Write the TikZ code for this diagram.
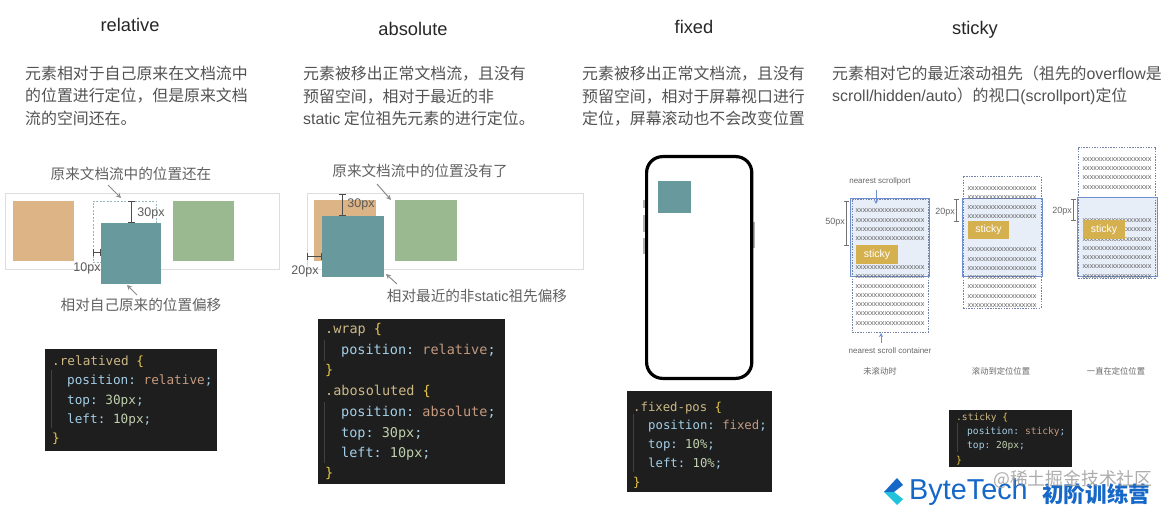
\documentclass[tikz,border=0pt]{standalone}
\usepackage{fontspec}
\setmainfont{Liberation Sans}
\setmonofont{DejaVu Sans Mono}
\newfontfamily\cjkFont{Noto Sans CJK SC}
\usetikzlibrary{arrows.meta}
\definecolor{tanColor}{HTML}{DDB486}
\definecolor{tealColor}{HTML}{68999C}
\definecolor{greenColor}{HTML}{9AB991}
\definecolor{frameColor}{HTML}{DDDDDD}
\definecolor{portColor}{HTML}{6F8FD0}
\definecolor{portFill}{HTML}{E8EEF8}
\definecolor{stickyColor}{HTML}{D5B04F}
\definecolor{codeBack}{HTML}{1E1E1E}
\definecolor{codeSelector}{HTML}{CDB886}
\definecolor{codeBrace}{HTML}{EBC94A}
\definecolor{codeProp}{HTML}{A4CFE8}
\definecolor{codeValue}{HTML}{C49A80}
\definecolor{codeNumber}{HTML}{BFD0AE}
\definecolor{logoBlue}{HTML}{1567C8}
\definecolor{logoCyan}{HTML}{1FC3DA}
\newcommand{\textSize}[1]{\fontsize{#1}{#1}\selectfont}
\newcommand{\lat}[1]{{\rmfamily #1}}
\tikzstyle{canvas} = [x = 1pt, y = -1pt]
\tikzstyle{flatBox} = [anchor=north west, inner sep=0, outer sep=0]
\tikzstyle{titleText} = [anchor=mid, inner sep=0, yshift=-4pt, text=black!85, font=\textSize{18.3}]
\tikzstyle{paraText} = [anchor=mid west, inner sep=0, yshift=-3.5pt, text=black!68, font=\cjkFont\textSize{15.9}]
\tikzstyle{noteText} = [anchor=mid, inner sep=0, yshift=-3pt, text=black!62, font=\cjkFont\textSize{14.6}]
\tikzstyle{sizeText} = [anchor=mid, inner sep=0, yshift=-2pt, text=black!65, font=\textSize{12.5}]
\tikzstyle{smallNote} = [anchor=mid, inner sep=0, yshift=-1pt, text=black!60, font=\textSize{8}]
\tikzstyle{smallCaption} = [anchor=mid, inner sep=0, yshift=-1pt, text=black!60, font=\cjkFont\textSize{8.3}]
\tikzstyle{smallSize} = [anchor=mid east, inner sep=0, yshift=-1pt, text=black!60, font=\textSize{9}]
\tikzstyle{rowText} = [anchor=mid, inner sep=0, yshift=-.5pt, text=black!62, font=\textSize{7.25}]
\tikzstyle{stickyBox} = [flatBox, fill=stickyColor, text=white, font=\textSize{10.5}]
\tikzstyle{portBox} = [flatBox, fill=portFill, draw=portColor, line width=1pt]
\tikzstyle{scrollBox} = [flatBox, draw=portColor!70!black!80, dash pattern=on 1.5pt off 1.2pt, line width=.5pt]
\tikzstyle{codeText} = [anchor=mid west, inner sep=0, yshift=-2pt, text=codeProp, font=\ttfamily]
\tikzstyle{noteArrow} = [color=black!45, line width=1pt, -{Stealth[length=5pt,width=5pt]}]
\tikzstyle{portArrow} = [color=portColor, line width=.8pt, -{Stealth[length=4pt,width=4pt]}]
\tikzstyle{sizeLine} = [color=black!70, line width=.9pt, {Bar[width=7pt]}-{Bar[width=7pt]}]
\tikzstyle{smallLine} = [color=black!55, line width=.6pt, {Bar[width=5pt]}-{Bar[width=5pt]}]
\tikzstyle{guideLine} = [color=white!15!codeBack, line width=.6pt]
\newcommand{\plainBox}[6]{\node [flatBox, #2, minimum width={(#5-#3)*1pt}, minimum height={(#6-#4)*1pt}] (#1) at (#3,#4) {};}
\newcommand{\textBox}[7]{\node [#2, align=center, minimum width={(#5-#3)*1pt}, minimum height={(#6-#4)*1pt}] (#1) at (#3,#4) {#7};}
\newcommand{\codeLine}[5]{\node [codeText] (#1) at (#2,#3) {\textSize{#4}#5};}
\newcommand{\sel}[1]{\textcolor{codeSelector}{#1}}
\newcommand{\brc}[1]{\textcolor{codeBrace}{#1}}
\newcommand{\val}[1]{\textcolor{codeValue}{#1}}
\newcommand{\num}[1]{\textcolor{codeNumber}{#1}}
\newcommand{\xRows}[3]{
  \foreach \rowY [count=\rowIndex] in {#3} {
    \node [rowText] (#1row\rowIndex) at (#2,\rowY) {xxxxxxxxxxxxxxxxxxx};
  }
}
\begin{document}
\begin{tikzpicture}[canvas]
\useasboundingbox (0,0) rectangle (1170,505);
\node [titleText] (relativeTitle) at (130,25) {relative};
\node [titleText] (absoluteTitle) at (413,29) {absolute};
\node [titleText] (fixedTitle) at (694,27) {fixed};
\node [titleText] (stickyTitle) at (975,28) {sticky};
\node [paraText] (relativeOne) at (25,73) {元素相对于自己原来在文档流中};
\node [paraText] (relativeTwo) at (25,95) {的位置进行定位，但是原来文档};
\node [paraText] (relativeThree) at (25,118) {流的空间还在。};
\node [paraText] (absoluteOne) at (303,73) {元素被移出正常文档流，且没有};
\node [paraText] (absoluteTwo) at (303,96) {预留空间，相对于最近的非};
\node [paraText] (absoluteThree) at (303,118) {\lat{static} 定位祖先元素的进行定位。};
\node [paraText] (fixedOne) at (582,73) {元素被移出正常文档流，且没有};
\node [paraText] (fixedTwo) at (582,96) {预留空间，相对于屏幕视口进行};
\node [paraText] (fixedThree) at (582,118) {定位，屏幕滚动也不会改变位置};
\node [paraText] (stickyOne) at (832,73) {元素相对它的最近滚动祖先（祖先的\lat{overflow}是};
\node [paraText] (stickyTwo) at (832,95) {\lat{scroll/hidden/auto}）的视口\lat{(scrollport)}定位};
\plainBox{relativeFrame}{draw=frameColor, line width=.7pt}{5}{193}{279}{269}
\plainBox{relativeTan}{fill=tanColor}{13}{201}{74}{261}
\plainBox{relativeGhost}{draw=tealColor!70, dash pattern=on 2pt off 1.5pt, line width=.6pt}{93}{201}{156}{262}
\plainBox{relativeTeal}{fill=tealColor}{101}{223}{161}{284}
\plainBox{relativeGreen}{fill=greenColor}{173}{201}{234}{261}
\node [noteText] (relativeKeep) at (131,174) {原来文档流中的位置还在};
\node [noteText] (relativeShift) at (141,305) {相对自己原来的位置偏移};
\node [sizeText] (relativeTop) at (151,212) {30px};
\node [sizeText] (relativeLeft) at (87,267) {10px};
\coordinate (keepTail) at (108,185);
\coordinate (keepHead) at (121,198);
\coordinate (shiftTail) at (137,295);
\coordinate (shiftHead) at (127,285);
\coordinate (topStart) at (131.5,201);
\coordinate (topEnd) at (131.5,223);
\coordinate (leftStart) at (93,252.5);
\coordinate (leftEnd) at (101,252.5);
\draw [noteArrow] (keepTail) -- (keepHead);
\draw [noteArrow] (shiftTail) -- (shiftHead);
\draw [sizeLine] (topStart) -- (topEnd);
\draw [sizeLine] (leftStart) -- (leftEnd);
\plainBox{absoluteFrame}{draw=frameColor, line width=.7pt}{307}{193}{583}{269}
\plainBox{absoluteTan}{fill=tanColor}{314}{200}{376}{261}
\plainBox{absoluteTeal}{fill=tealColor}{322}{216}{384}{277}
\plainBox{absoluteGreen}{fill=greenColor}{395}{200}{457}{261}
\node [noteText] (absoluteGone) at (420,171) {原来文档流中的位置没有了};
\node [noteText] (absoluteShift) at (477,296) {相对最近的非\lat{static}祖先偏移};
\node [sizeText] (absoluteTop) at (361,203) {30px};
\node [sizeText] (absoluteLeft) at (305,270) {20px};
\coordinate (goneTail) at (377,184);
\coordinate (goneHead) at (391,200);
\coordinate (ancestorTail) at (397,284);
\coordinate (ancestorHead) at (386,274);
\coordinate (absTopStart) at (342,194);
\coordinate (absTopEnd) at (342,216);
\coordinate (absLeftStart) at (307,256);
\coordinate (absLeftEnd) at (322,256);
\draw [noteArrow] (goneTail) -- (goneHead);
\draw [noteArrow] (ancestorTail) -- (ancestorHead);
\draw [sizeLine] (absTopStart) -- (absTopEnd);
\draw [sizeLine] (absLeftStart) -- (absLeftEnd);
\plainBox{phoneKeyOne}{fill=black!30}{643}{200}{647}{208}
\plainBox{phoneKeyTwo}{fill=black!30}{643}{215}{647}{232}
\plainBox{phoneKeyThree}{fill=black!30}{643}{238}{647}{254}
\plainBox{phoneKeyFour}{fill=black!30}{751}{222}{755}{248}
\plainBox{phoneBody}{draw=black, fill=white, line width=3.2pt, rounded corners=16pt}{646.6}{156.6}{751.8}{378.4}
\plainBox{fixedTeal}{fill=tealColor}{658}{181}{691}{213}
\plainBox{portOne}{portBox}{850}{199}{929}{276}
\plainBox{scrollOne}{scrollBox}{852}{199}{928}{332}
\xRows{first}{890}{209,219,228,237,266,275,285,294,303,312,322}
\textBox{stickyOneBox}{stickyBox}{856}{245}{898}{264}{sticky}
\node [smallNote] (portLabel) at (880,180) {nearest scrollport};
\node [smallNote] (scrollLabel) at (890,350) {nearest scroll container};
\node [smallCaption] (captionOne) at (880,371) {未滚动时};
\node [smallSize] (sizeOne) at (845,221) {50px};
\coordinate (portTail) at (876,190);
\coordinate (portHead) at (876,204);
\coordinate (scrollTail) at (881,343);
\coordinate (scrollHead) at (881,333);
\coordinate (sizeOneStart) at (846,201);
\coordinate (sizeOneEnd) at (846,246);
\draw [portArrow] (portTail) -- (portHead);
\draw [portArrow] (scrollTail) -- (scrollHead);
\draw [smallLine] (sizeOneStart) -- (sizeOneEnd);
\plainBox{portTwo}{portBox}{962}{199}{1042}{276}
\plainBox{scrollTwo}{scrollBox}{963}{176}{1041}{308}
\xRows{second}{1002}{187,196,206,215,248,258,267,276,285,295,304}
\textBox{stickyTwoBox}{stickyBox}{968}{221}{1009}{239}{sticky}
\node [smallCaption] (captionTwo) at (1001,371) {滚动到定位位置};
\node [smallSize] (sizeTwo) at (955,211) {20px};
\coordinate (sizeTwoStart) at (956,199);
\coordinate (sizeTwoEnd) at (956,222);
\draw [smallLine] (sizeTwoStart) -- (sizeTwoEnd);
\plainBox{portThree}{portBox}{1077}{198}{1157}{276}
\plainBox{scrollThree}{scrollBox}{1078}{147}{1155}{278}
\xRows{third}{1117}{158,167,176,186,219,228,238,247,256,265,275}
\textBox{stickyThreeBox}{stickyBox}{1083}{220}{1125}{239}{sticky}
\node [smallCaption] (captionThree) at (1116,371) {一直在定位位置};
\node [smallSize] (sizeThree) at (1072,210) {20px};
\coordinate (sizeThreeStart) at (1073,199);
\coordinate (sizeThreeEnd) at (1073,221);
\draw [smallLine] (sizeThreeStart) -- (sizeThreeEnd);
\plainBox{relativeCode}{fill=codeBack}{45}{349}{217}{451}
\coordinate (relativeGuideTop) at (51.5,370);
\coordinate (relativeGuideEnd) at (51.5,428);
\draw [guideLine] (relativeGuideTop) -- (relativeGuideEnd);
\codeLine{relativeLineA}{52}{361}{12.7}{\sel{.relatived} \brc{\{}}
\codeLine{relativeLineB}{67}{380}{12.7}{position: \val{relative};}
\codeLine{relativeLineC}{67}{400}{12.7}{top: \num{30px};}
\codeLine{relativeLineD}{67}{419}{12.7}{left: \num{10px};}
\codeLine{relativeLineE}{52}{438}{12.7}{\brc{\}}}
\plainBox{absoluteCode}{fill=codeBack}{318}{319}{505}{484}
\coordinate (wrapGuideTop) at (324.5,340);
\coordinate (wrapGuideEnd) at (324.5,361);
\coordinate (absGuideTop) at (324.5,402);
\coordinate (absGuideEnd) at (324.5,463);
\draw [guideLine] (wrapGuideTop) -- (wrapGuideEnd);
\draw [guideLine] (absGuideTop) -- (absGuideEnd);
\codeLine{absoluteLineA}{325}{329}{13.5}{\sel{.wrap} \brc{\{}}
\codeLine{absoluteLineB}{341}{350}{13.5}{position: \val{relative};}
\codeLine{absoluteLineC}{325}{370}{13.5}{\brc{\}}}
\codeLine{absoluteLineD}{325}{391}{13.5}{\sel{.abosoluted} \brc{\{}}
\codeLine{absoluteLineE}{341}{412}{13.5}{position: \val{absolute};}
\codeLine{absoluteLineF}{341}{433}{13.5}{top: \num{30px};}
\codeLine{absoluteLineG}{341}{453}{13.5}{left: \num{10px};}
\codeLine{absoluteLineH}{325}{473}{13.5}{\brc{\}}}
\plainBox{fixedCode}{fill=codeBack}{627}{391}{772}{492}
\coordinate (fixedGuideTop) at (633.5,414);
\coordinate (fixedGuideEnd) at (633.5,472);
\draw [guideLine] (fixedGuideTop) -- (fixedGuideEnd);
\codeLine{fixedLineA}{633}{407}{12.3}{\sel{.fixed-pos} \brc{\{}}
\codeLine{fixedLineB}{648}{425}{12.3}{position: \val{fixed};}
\codeLine{fixedLineC}{648}{444}{12.3}{top: \num{10\%};}
\codeLine{fixedLineD}{648}{463}{12.3}{left: \num{10\%};}
\codeLine{fixedLineE}{633}{482}{12.3}{\brc{\}}}
\plainBox{stickyCode}{fill=codeBack}{949}{410}{1072}{467}
\coordinate (stickyGuideTop) at (957,423);
\coordinate (stickyGuideEnd) at (957,452);
\draw [guideLine] (stickyGuideTop) -- (stickyGuideEnd);
\codeLine{stickyLineA}{956}{416}{9.6}{\sel{.sticky} \brc{\{}}
\codeLine{stickyLineB}{967}{430}{9.6}{position: \val{sticky};}
\codeLine{stickyLineC}{967}{444}{9.6}{top: \num{20px};}
\codeLine{stickyLineD}{956}{459}{9.6}{\brc{\}}}
\fill [logoBlue] (897,478) -- (903,485) -- (894,492) -- (884,492) -- cycle;
\fill [logoCyan] (884,492) -- (894,492) -- (903,499) -- (897,505) -- cycle;
\node [anchor=mid west, inner sep=0, yshift=-4pt, text=logoBlue, font=\textSize{28.8}] (logoWord) at (909,493) {ByteTech};
\node [anchor=mid west, inner sep=0, yshift=-4.5pt, text=logoBlue, font=\cjkFont\bfseries\textSize{21.6}] (logoCourse) at (1042,495) {初阶训练营};
\node [anchor=mid west, inner sep=0, yshift=-5pt, text=black!38, opacity=.85, font=\cjkFont\textSize{17.8}] (watermark) at (993,478) {@稀土掘金技术社区};
\end{tikzpicture}
\end{document}
